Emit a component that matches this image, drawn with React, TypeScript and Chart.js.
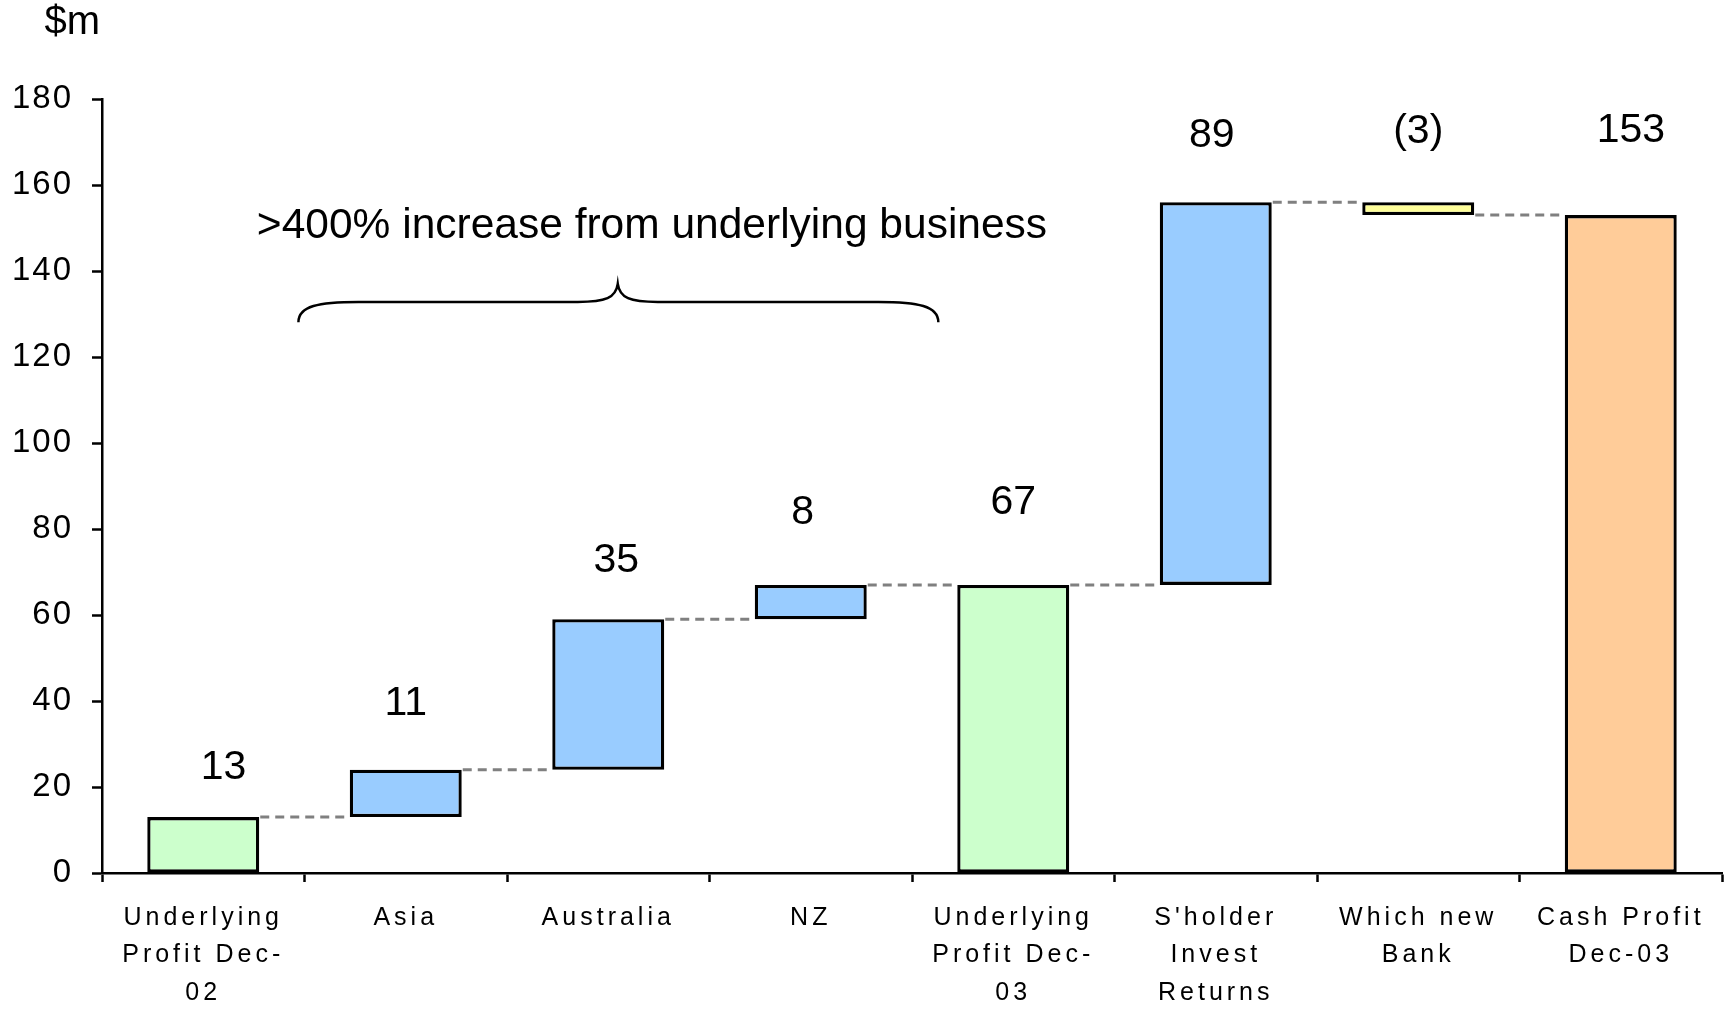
import React, { useEffect, useRef } from "react";
import { Chart, registerables } from "chart.js";

Chart.register(...registerables);

// ---- data ----
const categories: (string | string[])[] = [
  ["Underlying", "Profit Dec-", "02"],
  "Asia",
  "Australia",
  "NZ",
  ["Underlying", "Profit Dec-", "03"],
  ["S'holder", "Invest", "Returns"],
  ["Which new", "Bank"],
  ["Cash Profit", "Dec-03"],
];
const changes = [13, 11, 35, 8, 67, 89, -3, 153];
const kinds = ["total", "up", "up", "up", "total", "up", "down", "total"];
const valueLabels = ["13", "11", "35", "8", "67", "89", "(3)", "153"];
// level (in $m) at which each value label sits, and its shift in category units
const labelLevels = [24.6, 39.3, 72.6, 83.8, 86.2, 171.4, 172.4, 172.7];
const labelShift = [0.1, 0, 0.04, -0.04, 0, -0.02, 0, 0.05];
const yMin = 0;
const yMax = 180;
const yStep = 20;
const unitLabel = "$m";
const braceText = ">400% increase from underlying business";
// brace span in category-index units and its levels in $m
const braceFrom = 0.47;
const braceTo = 3.63;
const braceMid = 2.047;
const braceEndLevel = 128.1;
const braceLineLevel = 132.8;
const bracePeakLevel = 137;
const braceTextAt = 2.216;
const braceTextLevel = 150.3;

// ---- styles ----
const barColors = ["#CCFFCC", "#99CCFF", "#99CCFF", "#99CCFF", "#CCFFCC", "#99CCFF", "#FFFF99", "#FFCC99"];
const FONT = "'Liberation Sans', Arial, Helvetica, sans-serif";

function buildRanges(): [number, number][] {
  let run = 0;
  return changes.map((v, i) => {
    if (kinds[i] === "total") {
      run = v;
      return [0, v] as [number, number];
    }
    const start = run;
    run += v;
    return [start, run] as [number, number];
  });
}

export default function App() {
  const ref = useRef<HTMLCanvasElement>(null);

  useEffect(() => {
    const ranges = buildRanges();

    const spacingPlugin = {
      id: "spacing",
      afterLayout(chart: any) {
        const ys = chart.scales.y;
        if (ys && !ys.__patched) {
          const orig = ys.drawLabels;
          ys.drawLabels = function (area: any) {
            const ctx = this.ctx;
            const prev = ctx.letterSpacing;
            ctx.letterSpacing = "2px";
            orig.call(this, area);
            ctx.letterSpacing = prev;
          };
          ys.__patched = true;
        }
      },
      beforeDraw(chart: any) {
        (chart.ctx as any).letterSpacing = "4px";
      },
      beforeDatasetsDraw(chart: any) {
        (chart.ctx as any).letterSpacing = "0px";
      },
    };

    const annotPlugin = {
      id: "annot",
      afterDatasetsDraw(chart: any) {
        const ctx = chart.ctx as CanvasRenderingContext2D;
        const xs = chart.scales.x;
        const ys = chart.scales.y;
        const meta = chart.getDatasetMeta(0);
        ctx.save();
        (ctx as any).letterSpacing = "0px";
        // connectors
        ctx.strokeStyle = "#808080";
        ctx.lineWidth = 3;
        ctx.setLineDash([9, 6]);
        for (let i = 0; i < ranges.length - 1; i++) {
          const a = meta.data[i] as any;
          const b = meta.data[i + 1] as any;
          const level = ranges[i][1];
          const y = ys.getPixelForValue(level);
          ctx.beginPath();
          ctx.moveTo(a.x + a.width / 2 + 1, y);
          ctx.lineTo(b.x - b.width / 2, y);
          ctx.stroke();
        }
        ctx.setLineDash([]);
        // value labels
        ctx.fillStyle = "#000";
        ctx.font = `41px ${FONT}`;
        ctx.textAlign = "center";
        ctx.textBaseline = "middle";
        for (let i = 0; i < valueLabels.length; i++) {
          ctx.fillText(valueLabels[i], xs.getPixelForValue(i + labelShift[i]), ys.getPixelForValue(labelLevels[i]));
        }
        // brace
        const L = xs.getPixelForValue(braceFrom);
        const R = xs.getPixelForValue(braceTo);
        const M = xs.getPixelForValue(braceMid);
        const yE = ys.getPixelForValue(braceEndLevel);
        const yH = ys.getPixelForValue(braceLineLevel);
        const yP = ys.getPixelForValue(bracePeakLevel);
        ctx.strokeStyle = "#000";
        ctx.lineWidth = 2.5;
        ctx.beginPath();
        ctx.moveTo(L, yE);
        ctx.bezierCurveTo(L, yH + 4, L + 20, yH, L + 60, yH);
        ctx.lineTo(M - 40, yH);
        ctx.bezierCurveTo(M - 12, yH, M - 2, yH - 4, M, yP);
        ctx.bezierCurveTo(M + 2, yH - 4, M + 12, yH, M + 40, yH);
        ctx.lineTo(R - 60, yH);
        ctx.bezierCurveTo(R - 20, yH, R, yH + 4, R, yE);
        ctx.stroke();
        // brace text
        ctx.font = `42.5px ${FONT}`;
        ctx.fillText(braceText, xs.getPixelForValue(braceTextAt), ys.getPixelForValue(braceTextLevel));
        // unit label
        ctx.font = `40px ${FONT}`;
        ctx.textAlign = "right";
        ctx.fillText(unitLabel, chart.chartArea.left - 2, chart.chartArea.top - 76);
        ctx.restore();
      },
    };

    const chart = new Chart(ref.current as HTMLCanvasElement, {
      type: "bar",
      data: {
        labels: categories as any,
        datasets: [
          {
            data: ranges as any,
            backgroundColor: barColors,
            borderColor: "#000",
            borderWidth: 3.3,
            borderSkipped: false,
            barPercentage: 0.553,
            categoryPercentage: 1,
          },
        ],
      },
      options: {
        animation: false,
        responsive: true,
        maintainAspectRatio: false,
        layout: { padding: { top: 99, left: 0, right: 6, bottom: 0 } },
        plugins: { legend: { display: false }, tooltip: { enabled: false }, title: { display: false } },
        scales: {
          x: {
            grid: { drawOnChartArea: false, drawTicks: true, tickLength: 9, tickWidth: 2.5, tickColor: "#000", offset: true },
            border: { display: true, color: "#000", width: 2.5 },
            ticks: {
              color: "#000",
              font: { family: FONT, size: 25, lineHeight: 1.5 },
              padding: 17,
              autoSkip: false,
              maxRotation: 0,
              minRotation: 0,
            },
            afterFit: (s: any) => {
              s.height = 141;
            },
          },
          y: {
            min: yMin,
            max: yMax,
            grid: { drawOnChartArea: false, drawTicks: true, tickLength: 10, tickWidth: 2.5, tickColor: "#000" },
            border: { display: true, color: "#000", width: 2.5 },
            ticks: {
              stepSize: yStep,
              color: "#000",
              font: { family: FONT, size: 33 },
              padding: 19,
            },
            afterFit: (s: any) => {
              s.width = 102;
            },
          },
        },
      },
      plugins: [spacingPlugin, annotPlugin],
    });
    return () => chart.destroy();
  }, []);

  return (
    <div style={{ position: "fixed", left: 0, top: 0, width: 1728, height: 1014, background: "#fff" }}>
      <canvas ref={ref} />
    </div>
  );
}
